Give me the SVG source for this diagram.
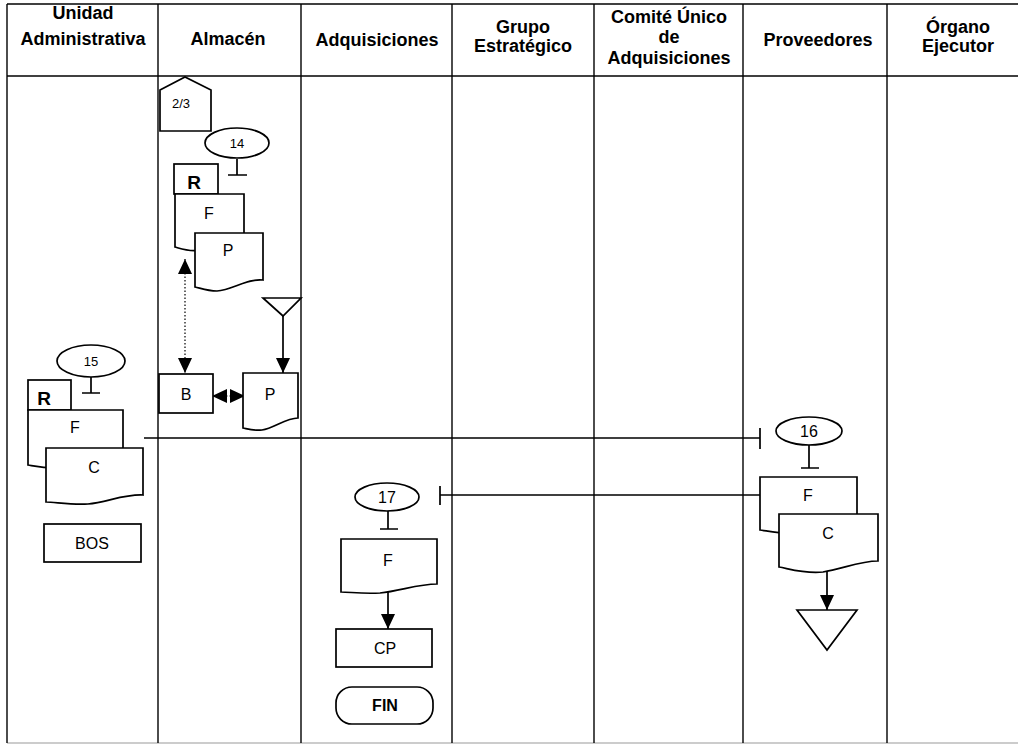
<svg xmlns="http://www.w3.org/2000/svg" width="1018" height="746" viewBox="0 0 1018 746">
  <style>
    .frame { stroke: #000; stroke-width: 1.4; fill: none; }
    .hdr { font-family: "Liberation Sans", Arial, sans-serif; font-weight: bold; font-size: 18px; text-anchor: middle; fill: #000; }
    .shape { fill: #fff; stroke: #000; stroke-width: 1.7; }
    .lbl { font-family: "Liberation Sans", Arial, sans-serif; font-size: 16px; text-anchor: middle; fill: #000; }
    .num { font-family: "Liberation Sans", Arial, sans-serif; font-size: 13px; text-anchor: middle; fill: #000; }
    .big { font-size: 16px; }
    .reg { font-family: "Liberation Sans", Arial, sans-serif; font-weight: bold; font-size: 19px; text-anchor: middle; fill: #000; }
    .line { stroke: #000; stroke-width: 1.7; fill: none; }
    .dot { stroke: #000; stroke-width: 1.2; stroke-dasharray: 1.5 2; fill: none; }
  </style>
  <defs>
    <marker id="ah" viewBox="0 0 15 14" refX="15" refY="7" markerWidth="15" markerHeight="14" orient="auto-start-reverse" markerUnits="userSpaceOnUse">
      <path d="M0,0 L15,7 L0,14 z" fill="#000"/>
    </marker>
  </defs>

  <rect width="1018" height="746" fill="#fff"/>

  <!-- swimlane frame -->
  <g id="lanes">
    <line class="frame" x1="7" y1="4" x2="1018" y2="4" stroke-width="2"/>
    <line class="frame" x1="7" y1="76" x2="1018" y2="76"/>
    <line x1="7" y1="743" x2="1018" y2="743" stroke="#bbb" stroke-width="1.4"/>
    <line class="frame" x1="7" y1="4" x2="7" y2="743"/>
    <line class="frame" x1="158" y1="4" x2="158" y2="743"/>
    <line class="frame" x1="301" y1="4" x2="301" y2="743"/>
    <line class="frame" x1="452" y1="4" x2="452" y2="743"/>
    <line class="frame" x1="594" y1="4" x2="594" y2="743"/>
    <line class="frame" x1="743" y1="4" x2="743" y2="743"/>
    <line class="frame" x1="887" y1="4" x2="887" y2="743"/>
    <text class="hdr" x="83" y="19">Unidad</text>
    <text class="hdr" x="83" y="45">Administrativa</text>
    <text class="hdr" x="228" y="45">Almacén</text>
    <text class="hdr" x="377" y="46">Adquisiciones</text>
    <text class="hdr" x="523" y="33">Grupo</text>
    <text class="hdr" x="523" y="52">Estratégico</text>
    <text class="hdr" x="669" y="23">Comité Único</text>
    <text class="hdr" x="669" y="43">de</text>
    <text class="hdr" x="669" y="64">Adquisiciones</text>
    <text class="hdr" x="818" y="46">Proveedores</text>
    <text class="hdr" x="958" y="33">Órgano</text>
    <text class="hdr" x="958" y="52">Ejecutor</text>
  </g>

  <!-- connectors -->
  <g id="connectors">
    <!-- stems under the numbered connectors -->
    <path class="line" d="M237,159 V175 M228,175 H247"/>
    <path class="line" d="M91,377 V393 M82,393 H100"/>
    <path class="line" d="M809,445 V468 M801,468 H819"/>
    <path class="line" d="M388,511 V529 M380,529 H398"/>
    <!-- dotted link between P and B -->
    <line class="dot" x1="185" y1="259" x2="185" y2="373" marker-start="url(#ah)" marker-end="url(#ah)"/>
    <!-- archive to P -->
    <line class="line" x1="283" y1="316" x2="283" y2="373" marker-end="url(#ah)"/>
    <!-- B to P exchange -->
    <line class="dot" x1="212" y1="396" x2="245" y2="396" marker-start="url(#ah)" marker-end="url(#ah)"/>
    <!-- Unidad Administrativa to Proveedores -->
    <path class="line" d="M144,438 H760 M760,428 V449"/>
    <!-- Proveedores to Adquisiciones -->
    <path class="line" d="M760,495 H440 M440,486 V505"/>
    <!-- F to CP -->
    <line class="line" x1="388" y1="591" x2="388" y2="629" marker-end="url(#ah)"/>
    <!-- C to archive -->
    <line class="line" x1="827" y1="569" x2="827" y2="610" marker-end="url(#ah)"/>
  </g>

  <!-- Almacén -->
  <g id="offpage-2-3">
    <polygon class="shape" points="160,90 185,77 211,90 211,131 160,131"/>
    <text class="num" x="181" y="108">2/3</text>
  </g>
  <g id="conn-14">
    <ellipse class="shape" cx="237" cy="143" rx="32" ry="15"/>
    <text class="num" x="237" y="148">14</text>
  </g>
  <g id="alm-docs">
    <rect class="shape" x="174" y="164" width="44" height="30"/>
    <text class="reg" x="194" y="189">R</text>
    <path class="shape" d="M175,194 H244 V240 C230,238 215,246 200,250 C190,252 182,249 175,247 Z"/>
    <text class="lbl" x="209" y="219">F</text>
    <path class="shape" d="M195,233 H263 V280 C248,278 232,290 217,291 C207,291 200,288 195,287 Z"/>
    <text class="lbl" x="228" y="256">P</text>
  </g>
  <g id="archive-alm">
    <polygon class="shape" points="263,298 301,298 283,316"/>
  </g>
  <g id="alm-B">
    <rect class="shape" x="159" y="374" width="54" height="39"/>
    <text class="lbl" x="186" y="400">B</text>
  </g>
  <g id="alm-P">
    <path class="shape" d="M243,373 H298 V418 C286,418 274,428 262,430 C254,431 248,429 243,428 Z"/>
    <text class="lbl" x="270" y="400">P</text>
  </g>

  <!-- Unidad Administrativa -->
  <g id="conn-15">
    <ellipse class="shape" cx="91" cy="361" rx="34" ry="16"/>
    <text class="num" x="91" y="366">15</text>
  </g>
  <g id="ua-docs">
    <rect class="shape" x="28" y="380" width="43" height="30"/>
    <text class="reg" x="44" y="405">R</text>
    <path class="shape" d="M28,410 H123 V460 C100,458 80,466 55,468 C42,468 34,466 28,465 Z"/>
    <text class="lbl" x="75" y="433">F</text>
    <path class="shape" d="M46,448 H143 V495 C125,494 107,502 88,504 C70,505 55,502 46,502 Z"/>
    <text class="lbl" x="94" y="473">C</text>
  </g>
  <g id="ua-BOS">
    <rect class="shape" x="44" y="524" width="97" height="38"/>
    <text class="lbl" x="92" y="549">BOS</text>
  </g>

  <!-- Proveedores -->
  <g id="conn-16">
    <ellipse class="shape" cx="809" cy="431" rx="33" ry="14"/>
    <text class="num big" x="809" y="437">16</text>
  </g>
  <g id="prov-docs">
    <path class="shape" d="M760,477 H857 V525 C835,524 812,530 795,533 C780,534 768,531 760,530 Z"/>
    <text class="lbl" x="808" y="501">F</text>
    <path class="shape" d="M779,514 H878 V561 C860,561 842,569 823,572 C805,574 790,569 779,567 Z"/>
    <text class="lbl" x="828" y="539">C</text>
  </g>
  <g id="archive-prov">
    <polygon class="shape" points="797,610 857,610 827,650"/>
  </g>

  <!-- Adquisiciones -->
  <g id="conn-17">
    <ellipse class="shape" cx="387" cy="497" rx="32" ry="14"/>
    <text class="num big" x="387" y="503">17</text>
  </g>
  <g id="adq-F">
    <path class="shape" d="M341,539 H437 V584 C418,584 400,591 380,593 C362,594 350,592 341,592 Z"/>
    <text class="lbl" x="388" y="566">F</text>
  </g>
  <g id="adq-CP">
    <rect class="shape" x="336" y="629" width="96" height="38"/>
    <text class="lbl" x="385" y="654">CP</text>
  </g>
  <g id="fin">
    <rect class="shape" x="336" y="687" width="97" height="37" rx="16"/>
    <text class="lbl" x="385" y="711" font-weight="bold" font-size="15">FIN</text>
  </g>
</svg>
